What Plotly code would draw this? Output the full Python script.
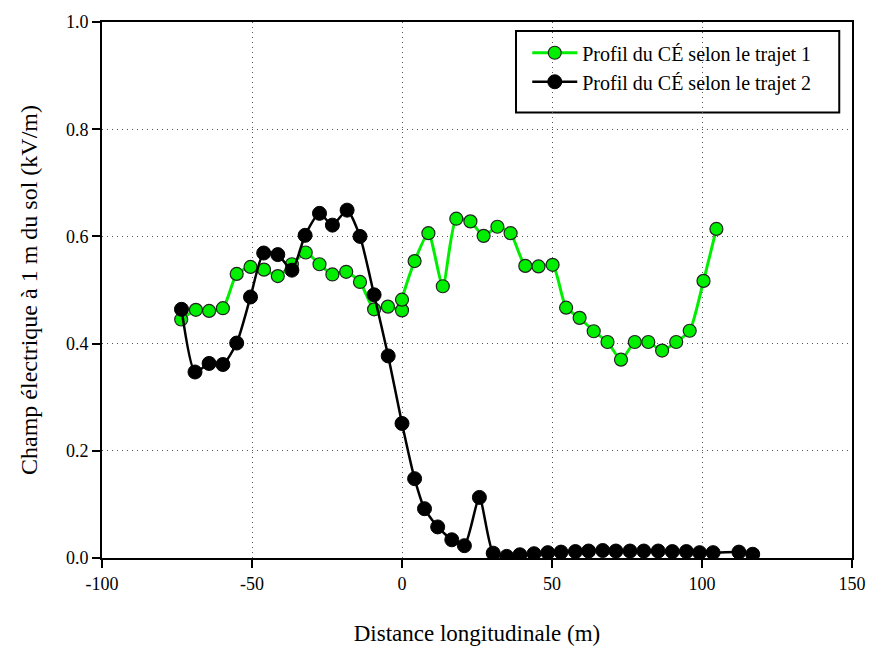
import plotly.graph_objects as go

# Trajet 1 (green)
x1 = [-73.6, -68.7, -64.3, -59.7, -55.1, -50.5, -46.0, -41.4, -36.7, -32.1, -27.5, -23.2,
      -18.6, -14.0, -9.3, -4.7, 0.0, 0.0, 4.2, 8.8, 13.6, 18.1, 22.8, 27.2, 31.8, 36.2,
      41.1, 45.5, 50.2, 54.7, 59.2, 63.9, 68.5, 73.0, 77.6, 82.1, 86.7, 91.4, 95.9, 100.5, 104.8]
y1 = [0.445, 0.463, 0.461, 0.466, 0.530, 0.543, 0.538, 0.526, 0.548, 0.570, 0.548, 0.529,
      0.534, 0.515, 0.464, 0.469, 0.462, 0.482, 0.554, 0.606, 0.507, 0.633, 0.628, 0.601, 0.618, 0.606,
      0.545, 0.544, 0.547, 0.467, 0.448, 0.423, 0.403, 0.370, 0.403, 0.403, 0.387, 0.403, 0.424, 0.517, 0.614]

# Trajet 2 (black)
x2 = [-73.5, -69.0, -64.3, -59.7, -55.1, -50.5, -46.1, -41.4, -36.7, -32.3, -27.5, -23.2,
      -18.3, -14.0, -9.3, -4.6, 0.0, 4.2, 7.5, 11.9, 16.6, 20.8, 25.8, 30.4, 34.9, 39.3,
      44.0, 48.6, 53.0, 57.8, 62.2, 66.9, 71.3, 76.0, 80.6, 85.4, 90.1, 94.8, 99.2, 103.7, 112.3, 116.9]
y2 = [0.464, 0.347, 0.363, 0.361, 0.401, 0.487, 0.569, 0.566, 0.537, 0.602, 0.643, 0.621,
      0.649, 0.600, 0.491, 0.377, 0.251, 0.148, 0.092, 0.058, 0.034, 0.023, 0.113, 0.009, 0.003, 0.006,
      0.008, 0.010, 0.011, 0.012, 0.013, 0.014, 0.013, 0.013, 0.013, 0.013, 0.012, 0.012, 0.010, 0.010, 0.011, 0.007]

xticks = [-100, -50, 0, 50, 100, 150]
yticks = [0.0, 0.2, 0.4, 0.6, 0.8, 1.0]

fig = go.Figure()
fig.add_trace(go.Scatter(
    x=x1, y=y1, mode="lines+markers", name="Profil du CÉ selon le trajet 1",
    line=dict(color="#00ee00", width=3, shape="spline", smoothing=0.6),
    marker=dict(size=13, color="#00ee00", line=dict(color="#222222", width=1.2)),
))
fig.add_trace(go.Scatter(
    x=x2, y=y2, mode="lines+markers", name="Profil du CÉ selon le trajet 2",
    line=dict(color="black", width=2.5, shape="spline", smoothing=0.6),
    marker=dict(size=14, color="black", line=dict(color="black", width=1)),
))

font_family = "Liberation Serif"
fig.update_layout(
    width=878, height=654,
    margin=dict(l=102, r=22, t=14, b=96),
    paper_bgcolor="white", plot_bgcolor="white",
    font=dict(family=font_family, size=17, color="black"),
    showlegend=True,
    legend=dict(
        x=0.567, y=0.979, xanchor="left", yanchor="top",
        borderwidth=0, bgcolor="rgba(0,0,0,0)",
        font=dict(family=font_family, size=20, color="black"),
        tracegroupgap=0, itemwidth=45,
    ),
    shapes=[dict(
        type="rect", xref="paper", yref="paper",
        x0=0.552, x1=0.983, y0=0.831, y1=0.983,
        line=dict(color="black", width=2), fillcolor="white", layer="below",
    )],
    xaxis=dict(
        range=[-100, 150], tickvals=xticks, ticktext=[str(v) for v in xticks],
        showgrid=True, gridcolor="#555555", griddash="1px,4px", gridwidth=1,
        zeroline=False, showline=True, linecolor="black", linewidth=2, mirror=True,
        ticks="outside", ticklen=8, tickwidth=2, tickcolor="black",
        title=dict(text="Distance longitudinale (m)",
                   font=dict(family=font_family, size=23, color="black"), standoff=32),
        tickfont=dict(family=font_family, size=18, color="black"),
    ),
    yaxis=dict(
        range=[0, 1.0], tickvals=yticks, ticktext=[f"{v:.1f}" for v in yticks],
        showgrid=True, gridcolor="#555555", griddash="1px,4px", gridwidth=1,
        zeroline=False, showline=True, linecolor="black", linewidth=2, mirror=True,
        ticks="outside", ticklen=8, tickwidth=2, tickcolor="black",
        title=dict(text="Champ électrique à 1 m du sol (kV/m)",
                   font=dict(family=font_family, size=24, color="black"), standoff=22),
        tickfont=dict(family=font_family, size=18, color="black"),
    ),
)

fig.write_html("out.html")
